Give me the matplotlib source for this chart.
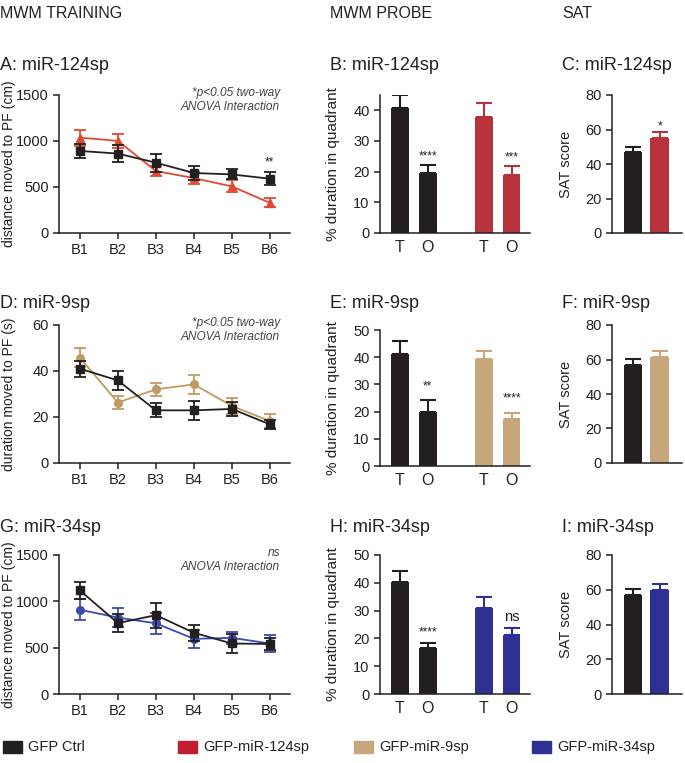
import matplotlib
matplotlib.use("Agg")
import matplotlib.pyplot as plt
from matplotlib.patches import Rectangle

plt.rcParams['font.family'] = ['Liberation Sans', 'DejaVu Sans']

# ---------------- data ----------------
blocks = ["B1", "B2", "B3", "B4", "B5", "B6"]
probe_labels = ["T", "O", "T", "O"]

# A: miR-124sp training (distance, cm)
a_ctrl = [892, 863, 764, 652, 637, 590]
a_ctrl_err = [73, 90, 100, 72, 55, 72]
a_124 = [1037, 1001, 673, 597, 506, 328]
a_124_err = [88, 80, 50, 65, 65, 50]

# D: miR-9sp training (duration, s)
d_ctrl = [41, 35.9, 22.9, 22.9, 23.5, 16.8]
d_ctrl_err = [3.5, 4, 3, 4, 3, 2]
d_9 = [45.8, 26.3, 32, 34.2, 24.8, 18.2]
d_9_err = [4, 3, 3, 4, 3.5, 3]

# G: miR-34sp training (distance, cm)
g_ctrl = [1117, 765, 851, 661, 545, 540]
g_ctrl_err = [90, 95, 135, 85, 100, 60]
g_34 = [909, 825, 763, 595, 606, 545]
g_34_err = [115, 105, 115, 100, 65, 95]

# Probe (% duration in quadrant): ctrl T, ctrl O, sp T, sp O
b_vals = [40.6, 19.5, 37.8, 18.8]
b_err = [4.3, 2.6, 4.6, 2.9]
e_vals = [41.0, 19.8, 39.3, 17.1]
e_err = [4.9, 4.6, 2.8, 2.4]
h_vals = [40.2, 16.6, 30.8, 21.3]
h_err = [4.0, 1.9, 4.0, 2.6]

# SAT score: ctrl, sp
c_vals = [47, 55.3]
c_err = [2.8, 3.2]
f_vals = [57, 61.5]
f_err = [3.3, 3.2]
i_vals = [56.7, 59.6]
i_err = [3.8, 3.8]

# ---------------- styles ----------------
BLACK = '#231f20'
RED_BAR = '#b8323a'
RED_LINE = '#e04a33'
TAN = '#c8a67b'
TAN_LINE = '#c09a63'
BLUE = '#2e3192'
BLUE_LINE = '#3b4cb0'
TXT = '#222222'

W, H = 685, 763
fig = plt.figure(figsize=(W / 100, H / 100), dpi=100)


def box(l, t, r, b):
    return [l / W, 1 - b / H, (r - l) / W, (b - t) / H]


def style(ax):
    for s in ['top', 'right']:
        ax.spines[s].set_visible(False)
    for s in ['left', 'bottom']:
        ax.spines[s].set_linewidth(1.1)
        ax.spines[s].set_color(BLACK)
    ax.tick_params(axis='both', direction='out', length=4, width=1.1,
                   colors=BLACK, labelsize=10.5, labelcolor=TXT)


def ftext(x, y, s, **kw):
    fig.text(x / W, 1 - y / H, s, **kw)


# headers
ftext(0, 14, "MWM TRAINING", fontsize=11.5, color=TXT, va='center')
ftext(330, 14, "MWM PROBE", fontsize=11.5, color=TXT, va='center')
ftext(562, 14, "SAT", fontsize=11.5, color=TXT, va='center')

rows = [(95, 233, 65), (325, 463, 303), (555, 694, 527)]
letters = [("A: miR-124sp", "B: miR-124sp", "C: miR-124sp"),
           ("D: miR-9sp", "E: miR-9sp", "F: miR-9sp"),
           ("G: miR-34sp", "H: miR-34sp", "I: miR-34sp")]

train_data = [
    (a_ctrl, a_ctrl_err, a_124, a_124_err, RED_LINE, '^', 1500, [0, 500, 1000, 1500],
     "distance moved to PF (cm)", "*p<0.05 two-way\nANOVA Interaction"),
    (d_ctrl, d_ctrl_err, d_9, d_9_err, TAN_LINE, 'o', 60, [0, 20, 40, 60],
     "duration moved to PF (s)", "*p<0.05 two-way\nANOVA Interaction"),
    (g_ctrl, g_ctrl_err, g_34, g_34_err, BLUE_LINE, 'o', 1500, [0, 500, 1000, 1500],
     "distance moved to PF (cm)", "ns\nANOVA Interaction"),
]
probe_data = [(b_vals, b_err, RED_BAR, 45, [0, 10, 20, 30, 40], ["****", "***"], [25.1, 24.8]),
              (e_vals, e_err, TAN, 50, [0, 10, 20, 30, 40, 50], ["**", "****"], [29.2, 24.9]),
              (h_vals, h_err, BLUE, 50, [0, 10, 20, 30, 40, 50], ["****", "ns"], [22.3, 27.8])]
sat_data = [(c_vals, c_err, RED_BAR, "*"), (f_vals, f_err, TAN, None), (i_vals, i_err, BLUE, None)]

xpos = list(range(1, 7))
ppos = [0, 1, 3, 4]

for r, (top, bot, ty) in enumerate(rows):
    # ---- training ----
    ctrl, ctrl_e, sp, sp_e, col, mk, ymax, yt, ylab, note = train_data[r]
    ax = fig.add_axes(box(59, top, 290, bot))
    style(ax)
    ax.errorbar(xpos, ctrl, yerr=ctrl_e, color=BLACK, marker='s', ms=6,
                lw=1.3, capsize=4, capthick=1.3, elinewidth=1.3, zorder=3)
    ax.errorbar(xpos, sp, yerr=sp_e, color=col, marker=mk, ms=5.5,
                lw=1.3, capsize=4, capthick=1.3, elinewidth=1.3, zorder=2)
    ax.set_xlim(0.45, 6.53)
    ax.set_ylim(0, ymax)
    ax.set_yticks(yt)
    ax.set_xticks(xpos)
    ax.set_xticklabels(blocks)
    ax.set_ylabel(ylab, fontsize=10, color=TXT)
    ax.yaxis.set_label_coords(-0.185, 0.5)
    ftext(0, ty, letters[r][0], fontsize=13, color=TXT, va='center')
    l1, l2 = note.split("\n")
    ftext(280, top - 2, l1, fontsize=8.6, style='italic', color='#444444', ha='right', va='center')
    ftext(280, top + 12, l2, fontsize=8.6, style='italic', color='#444444', ha='right', va='center')
    if r == 0:
        ax.text(6, 770, "**", ha='center', va='center', fontsize=8.5, color=TXT)

    # ---- probe ----
    vals, errs, col, ymax, yt, stars, sy = probe_data[r]
    ptop = top if r != 1 else 330
    pbot = bot if r != 1 else 466
    ax = fig.add_axes(box(380, ptop, 530, pbot))
    style(ax)
    cols = [BLACK, BLACK, col, col]
    for x, v, e, c in zip(ppos, vals, errs, cols):
        ax.bar(x, v, width=0.64, color=c, zorder=2)
        ax.errorbar(x, v, yerr=[[0], [e]], color=c, capsize=5.5, capthick=1.5,
                    elinewidth=1.5, fmt='none', zorder=1)
    ax.set_xlim(-0.7, 4.66)
    ax.set_ylim(0, ymax)
    ax.set_yticks(yt)
    ax.set_xticks(ppos)
    ax.set_xticklabels(probe_labels, fontsize=11.5)
    ax.tick_params(axis='x', length=0, pad=5)
    ax.set_ylabel("% duration in quadrant", fontsize=11, color=TXT)
    ax.yaxis.set_label_coords(-0.27, 0.5)
    ax.text(1, sy[0], stars[0], ha='center', va='center',
            fontsize=8.5 if stars[0] != "ns" else 10, color=TXT)
    ax.text(4, sy[1], stars[1], ha='center', va='center',
            fontsize=8.5 if stars[1] != "ns" else 10.5, color=TXT)
    ftext(330, ty, letters[r][1], fontsize=13, color=TXT, va='center')

    # ---- SAT ----
    vals, errs, col, star = sat_data[r]
    ax = fig.add_axes(box(612, top, 682, bot))
    style(ax)
    for x, v, e, c in zip([0, 1], vals, errs, [BLACK, col]):
        ax.bar(x, v, width=0.7, color=c, zorder=2)
        ax.errorbar(x, v, yerr=[[0], [e]], color=c, capsize=5.5, capthick=1.5,
                    elinewidth=1.5, fmt='none', zorder=1)
    ax.set_xlim(-0.78, 1.83)
    ax.set_ylim(0, 80)
    ax.set_yticks([0, 20, 40, 60, 80])
    ax.set_xticks([])
    ax.set_ylabel("SAT score", fontsize=10.5, color=TXT)
    ax.yaxis.set_label_coords(-0.55, 0.5)
    if star:
        ax.text(1, vals[1] + errs[1] + 3, star, ha='center', va='center', fontsize=8.5, color=TXT)
    ftext(562, ty, letters[r][2], fontsize=13, color=TXT, va='center')

# ---------------- legend ----------------
legend_items = [("GFP Ctrl", BLACK), ("GFP-miR-124sp", '#be1e2d'),
                ("GFP-miR-9sp", TAN), ("GFP-miR-34sp", BLUE)]
legend_x = [3, 178, 354, 532]
lax = fig.add_axes([0, 0, 1, 1], facecolor='none')
lax.set_xlim(0, W)
lax.set_ylim(H, 0)
lax.axis('off')
for (lab, c), x in zip(legend_items, legend_x):
    lax.add_patch(Rectangle((x, 741), 19, 12, color=c))
    lax.text(x + 25, 747, lab, fontsize=10.5, color=TXT, va='center')

fig.savefig("out.png", dpi=100)
